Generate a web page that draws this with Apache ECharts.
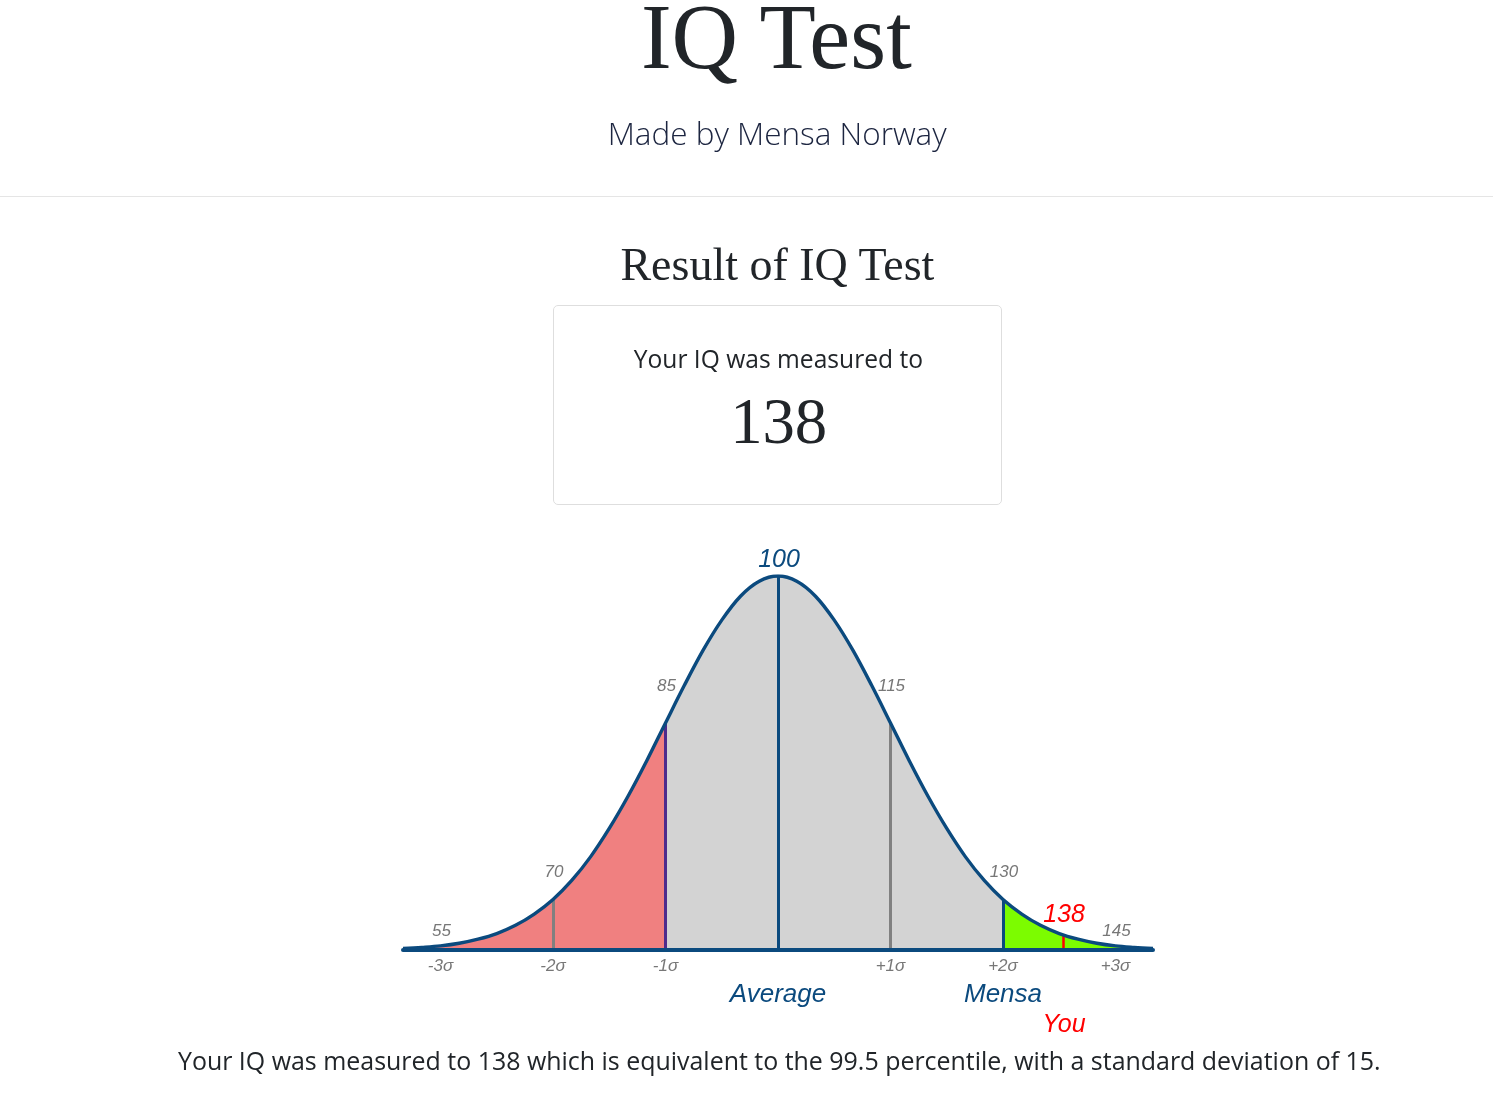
<!DOCTYPE html>
<html><head><meta charset="utf-8">
<script src="https://cdn.jsdelivr.net/npm/echarts@6/dist/echarts.min.js"></script>
<style>
html,body{margin:0;padding:0;background:#fff;width:1493px;height:1098px;overflow:hidden;position:relative;}
#chart{position:absolute;left:0;top:0;width:1493px;height:1098px;}
#rule{position:absolute;left:0;top:196px;width:1493px;height:1px;background:#e5e5e5;}
#box{position:absolute;left:553px;top:305px;width:447px;height:198px;border:1px solid #dedede;border-radius:5px;}
</style></head><body>
<div id="chart"></div>
<div id="rule"></div>
<div id="box"></div>
<script>
// ---- data ----
const iqValues = [50,52.5,55,57.5,60,62.5,65,67.5,70,72.5,75,77.5,80,82.5,85,87.5,90,92.5,95,97.5,100,
  102.5,105,107.5,110,112.5,115,117.5,120,122.5,125,127.5,130,132.5,135,137.5,140,142.5,145,147.5,150];
const curveHeights = [0.4,0.7,1.1,1.8,2.9,4.4,6.6,9.6,13.5,18.6,24.9,32.5,41.1,50.6,60.7,70.7,80.1,88.2,94.6,98.6,100,
  98.6,94.6,88.2,80.1,70.7,60.7,50.6,41.1,32.5,24.9,18.6,13.5,9.6,6.6,4.4,2.9,1.8,1.1,0.7,0.4];
const topLabels = [55,70,85,100,115,130,145];
const sigmaPositions = [55,70,85,115,130,145];
const sigmaLabels = ['-3σ','-2σ','-1σ','+1σ','+2σ','+3σ'];
const lowerBound = 85;      // end of red region
const mensaBound = 130;     // start of green region
const grayLines = [70,115];
const averageIQ = 100;
const yourIQ = 138;
const percentile = 99.5;
const stdDev = 15;

// ---- page texts ----
function place(text, family, weight, style, color, inkW, cx, baseline){
  const c = document.createElement('canvas').getContext('2d');
  let F = 100;
  c.font = `${style} ${weight} ${F}px ${family}`;
  let m = c.measureText(text);
  const w = m.actualBoundingBoxLeft + m.actualBoundingBoxRight;
  F = F * inkW / w;
  c.font = `${style} ${weight} ${F}px ${family}`;
  m = c.measureText(text);
  const fa = m.fontBoundingBoxAscent, fd = m.fontBoundingBoxDescent;
  const inkC = (m.actualBoundingBoxRight - m.actualBoundingBoxLeft) / 2 - m.width / 2;
  const top = baseline - ((F - (fa + fd)) / 2 + fa);
  const d = document.createElement('div');
  d.textContent = text;
  d.style.cssText = `position:absolute;left:${cx - 1000 - inkC}px;width:2000px;text-align:center;white-space:nowrap;top:${top}px;font:${style} ${weight} ${F}px/${F}px ${family};color:${color};`;
  document.body.appendChild(d);
}
const SERIF = "'Liberation Serif', 'DejaVu Serif', serif";
const SANS = "'Open Sans', 'Noto Sans', sans-serif";
place('IQ Test', SERIF, 400, 'normal', '#212529', 270, 778, 68);
place('Made by Mensa Norway', SANS, 300, 'normal', '#1c2540', 336, 779, 145);
place('Result of IQ Test', SERIF, 400, 'normal', '#212529', 314, 778, 280);
place('Your IQ was measured to', SANS, 400, 'normal', '#212529', 288, 778, 369);
place(String(yourIQ), SERIF, 400, 'normal', '#212529', 90, 780, 443);
place(`Your IQ was measured to ${yourIQ} which is equivalent to the ${percentile} percentile, with a standard deviation of ${stdDev}.`,
  SANS, 400, 'normal', '#212529', 1201, 778.5, 1070);

// ---- chart ----
const BLUE = '#0b4a7e';
const pts = iqValues.map((x, i) => [x, curveHeights[i]]);
function yAt(x){
  for (let i = 0; i < iqValues.length - 1; i++){
    if (x >= iqValues[i] && x <= iqValues[i+1]){
      const t = (x - iqValues[i]) / (iqValues[i+1] - iqValues[i]);
      return curveHeights[i] + t * (curveHeights[i+1] - curveHeights[i]);
    }
  }
  return 0;
}
const seg = (a, b) => pts.filter(p => p[0] >= a && p[0] <= b);
function fill(data, color){
  return {type:'line', data, smooth:0.35, symbol:'none', silent:true, z:2,
    lineStyle:{width:0}, areaStyle:{color, opacity:1}};
}
const vline = (x, color, w) => [
  {coord:[x, 0], lineStyle:{color, width:w, type:'solid', opacity:1}},
  {coord:[x, yAt(x)]}
];
const labelFont = "'Liberation Sans', Arial, sans-serif";
const topOffsets = {55:-15, 70:-27, 85:-37, 100:-16, 115:-37, 130:-27, 145:-15};
const labelData = [];
topLabels.forEach(v => {
  const big = v === averageIQ;
  labelData.push({value:[v, yAt(v)], label:{formatter:String(v), offset:[1, topOffsets[v]],
    fontSize: big ? 25 : 17, color: big ? BLUE : '#777'}});
});
sigmaPositions.forEach((v, i) => {
  labelData.push({value:[v, 0], label:{formatter:sigmaLabels[i], offset:[0, 16], fontSize:17, color:'#777'}});
});
labelData.push({value:[yourIQ, yAt(yourIQ)], label:{formatter:String(yourIQ), offset:[1, -20], fontSize:25, color:'#ff0000'}});
labelData.push({value:[averageIQ, 0], label:{formatter:'Average', offset:[0, 45], fontSize:26, color:BLUE}});
labelData.push({value:[mensaBound, 0], label:{formatter:'Mensa', offset:[0, 45], fontSize:26, color:BLUE}});
labelData.push({value:[yourIQ, 0], label:{formatter:'You', offset:[1, 75], fontSize:25, color:'#ff0000'}});

const chart = echarts.init(document.getElementById('chart'), null, {renderer:'canvas'});
chart.setOption({
  animation:false,
  backgroundColor:'transparent',
  grid:{left:403, right:340, top:576, bottom:148},
  xAxis:{type:'value', min:50, max:150, z:5,
    axisLine:{show:true, lineStyle:{color:BLUE, width:4}},
    axisTick:{show:false}, axisLabel:{show:false}, splitLine:{show:false}},
  yAxis:{type:'value', min:0, max:100, show:false, splitLine:{show:false}},
  series:[
    fill(seg(50, lowerBound), '#f08080'),
    fill(seg(lowerBound, mensaBound), '#d3d3d3'),
    fill(seg(mensaBound, 150), '#7cfc00'),
    {type:'line', data:pts, smooth:0.35, symbol:'none', silent:true, z:6,
      lineStyle:{color:BLUE, width:3.4},
      markLine:{silent:true, symbol:'none', label:{show:false}, z:4,
        lineStyle:{type:'solid'},
        data:[
          vline(grayLines[0], '#808080', 3),
          vline(lowerBound, '#4e2b8c', 3),
          vline(averageIQ, BLUE, 3),
          vline(grayLines[1], '#808080', 3),
          vline(mensaBound, BLUE, 3),
          vline(yourIQ, '#ff0000', 2.5)
        ]}},
    {type:'scatter', data:labelData, symbolSize:1, itemStyle:{color:'rgba(0,0,0,0)', opacity:1}, silent:true, clip:false, z:10,
      label:{show:true, position:'inside', align:'center', verticalAlign:'middle',
        fontFamily:labelFont, fontStyle:'italic', opacity:1}}
  ]
});
</script>
</body></html>
